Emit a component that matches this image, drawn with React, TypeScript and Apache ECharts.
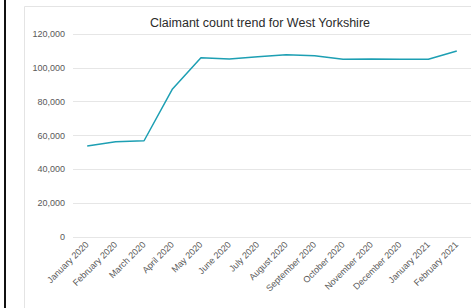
import React, { useEffect, useRef } from "react";
import * as echarts from "echarts";

const months = [
  "January 2020", "February 2020", "March 2020", "April 2020", "May 2020", "June 2020",
  "July 2020", "August 2020", "September 2020", "October 2020", "November 2020",
  "December 2020", "January 2021", "February 2021",
];
const claimants = [
  53800, 56300, 56900, 87500, 106000, 105200, 106600, 107800, 107200, 105100, 105200, 105100, 105100, 110000,
];
const yTicks = { min: 0, max: 120000, interval: 20000 };
const title = "Claimant count trend for West Yorkshire";

export default function App() {
  const ref = useRef<HTMLDivElement>(null);
  useEffect(() => {
    if (!ref.current) return;
    const chart = echarts.init(ref.current, null, { renderer: "svg" });
    chart.setOption({
      animation: false,
      backgroundColor: "#ffffff",
      title: {
        text: title,
        left: 255,
        top: 11,
        textAlign: "center",
        textStyle: { fontFamily: "Liberation Sans", fontSize: 12.5, fontWeight: "normal", color: "#2b2b2b" },
      },
      graphic: [
        { type: "rect", shape: { x: 24.5, y: 6.5, width: 460, height: 320 }, style: { fill: "none", stroke: "#e4e4e4", lineWidth: 1 }, z: 0 },
        { type: "rect", shape: { x: 4, y: 0, width: 2, height: 308 }, style: { fill: "#111111" }, z: 10 },
      ],
      grid: { left: 73, right: -9, top: 34, bottom: 71, containLabel: false },
      xAxis: {
        type: "category",
        data: months,
        boundaryGap: true,
        axisLine: { show: false },
        axisTick: { show: false },
        axisLabel: {
          rotate: 45,
          interval: 0,
          fontFamily: "Liberation Sans",
          fontSize: 9,
          color: "#595959",
          margin: 6,
        },
      },
      yAxis: {
        type: "value",
        min: yTicks.min,
        max: yTicks.max,
        interval: yTicks.interval,
        axisLine: { show: false },
        axisTick: { show: false },
        splitLine: { lineStyle: { color: "#e6e6e6", width: 1 } },
        axisLabel: {
          fontFamily: "Liberation Sans",
          fontSize: 9,
          color: "#595959",
          margin: 8,
          formatter: (v: number) => v.toLocaleString("en-GB"),
        },
      },
      series: [
        {
          type: "line",
          data: claimants,
          symbol: "none",
          lineStyle: { color: "#1d9fb3", width: 1.5 },
        },
      ],
    });
    return () => chart.dispose();
  }, []);
  return (
    <div style={{ position: "fixed", left: 0, top: 0, width: 471, height: 308, overflow: "hidden", background: "#fff" }}>
      <div ref={ref} style={{ width: 471, height: 308 }} />
    </div>
  );
}
